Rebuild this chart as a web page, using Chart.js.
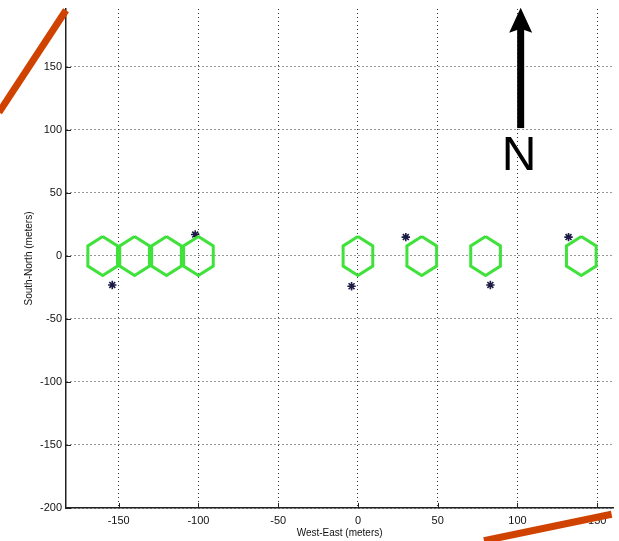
<!DOCTYPE html>
<html>
<head>
<meta charset="utf-8">
<script src="https://cdn.jsdelivr.net/npm/chart.js@4.4.0/dist/chart.umd.min.js"></script>
<style>
  html, body { margin: 0; padding: 0; background: #fff; overflow: hidden; }
  #wrap { position: relative; width: 619px; height: 541px; overflow: hidden; }
  #siteCanvas { display: block; }
</style>
</head>
<body>
<div id="wrap"><canvas id="siteCanvas"></canvas></div>
<script>
// hexagon centres (meters)
var hexX = [-160, -140, -120, -100, 0, 40, 80, 140];
var hexY = [0, 0, 0, 0, 0, 0, 0, 0];

// asterisk markers (meters)
var starX = [-154, -102, -4, 30, 83, 132];
var starY = [-23, 17, -24, 15, -23, 15];

// red pen strokes drawn over the figure
var strokeAX = [-225, -183];
var strokeAY = [114, 195];
var strokeBX = [79, 159];
var strokeBY = [-226, -205];

// north arrow
var arrowX = 102;
var arrowY = [101.5, 197];
var northLabel = { x: 101, y: 80, text: 'N' };

var xTicks = [-150, -100, -50, 0, 50, 100, 150];
var yTicks = [-200, -150, -100, -50, 0, 50, 100, 150];

function pts(xs, ys) {
    return xs.map(function (x, i) { return { x: x, y: ys[i] }; });
}

function hexagon(cx, cy) {
    var w = 9.3, h = 15.5, s = 8;
    return [
        { x: cx, y: cy + h }, { x: cx + w, y: cy + s }, { x: cx + w, y: cy - s },
        { x: cx, y: cy - h }, { x: cx - w, y: cy - s }, { x: cx - w, y: cy + s },
        { x: cx, y: cy + h }
    ];
}

var datasets = [];
hexX.forEach(function (x, i) {
    datasets.push({
        data: hexagon(x, hexY[i]), showLine: true, pointRadius: 0,
        borderColor: '#3fe23a', borderWidth: 3, borderJoinStyle: 'miter'
    });
    datasets.push({
        data: hexagon(x, hexY[i]), showLine: true, pointRadius: 0,
        borderColor: '#063006', borderWidth: 1.1
    });
});
datasets.push({
    data: pts(starX, starY), showLine: false, pointStyle: 'star',
    pointRadius: 4.2, borderColor: '#1b1b45', borderWidth: 1.6, backgroundColor: '#1b1b45'
});
datasets.push({
    data: pts(strokeAX, strokeAY), showLine: true, pointRadius: 0, clip: false,
    borderColor: '#d04200', borderWidth: 7
});
datasets.push({
    data: pts(strokeBX, strokeBY), showLine: true, pointRadius: 0, clip: false,
    borderColor: '#d04200', borderWidth: 7
});

// small inward tick marks, like the original plot
var innerTicks = {
    id: 'innerTicks',
    beforeDatasetsDraw: function (chart) {
        var ctx = chart.ctx, a = chart.chartArea;
        var xs = chart.scales.x, ys = chart.scales.y;
        ctx.save();
        ctx.strokeStyle = '#222';
        ctx.lineWidth = 1;
        ctx.beginPath();
        xTicks.forEach(function (v) {
            var p = Math.round(xs.getPixelForValue(v)) + 0.5;
            ctx.moveTo(p, a.bottom);
            ctx.lineTo(p, a.bottom - 5);
        });
        yTicks.forEach(function (v) {
            var p = Math.round(ys.getPixelForValue(v)) + 0.5;
            ctx.moveTo(a.left, p);
            ctx.lineTo(a.left + 5, p);
        });
        ctx.stroke();
        ctx.restore();
    }
};

var northArrow = {
    id: 'northArrow',
    afterDatasetsDraw: function (chart) {
        var ctx = chart.ctx;
        var xs = chart.scales.x, ys = chart.scales.y;
        var px = xs.getPixelForValue(arrowX);
        var y0 = ys.getPixelForValue(arrowY[0]);
        var y1 = ys.getPixelForValue(arrowY[1]);
        ctx.save();
        ctx.fillStyle = '#000';
        ctx.fillRect(px - 3.5, y1 + 20, 7, y0 - y1 - 20);
        ctx.beginPath();
        ctx.moveTo(px, y1);
        ctx.lineTo(px + 11.5, y1 + 25);
        ctx.lineTo(px, y1 + 21);
        ctx.lineTo(px - 11.5, y1 + 25);
        ctx.closePath();
        ctx.fill();
        ctx.font = '48px "Liberation Sans", Arial, sans-serif';
        ctx.textAlign = 'center';
        ctx.textBaseline = 'middle';
        ctx.fillText(northLabel.text, xs.getPixelForValue(northLabel.x), ys.getPixelForValue(northLabel.y) + 2);
        ctx.restore();
    }
};

var tickFont = { family: '"Liberation Sans", Arial, sans-serif', size: 11 };
var titleFont = { family: '"Liberation Sans", Arial, sans-serif', size: 10 };

new Chart(document.getElementById('siteCanvas'), {
    type: 'scatter',
    data: { datasets: datasets },
    options: {
        responsive: true,
        maintainAspectRatio: false,
        animation: false,
        layout: { padding: { top: 9, right: 0, left: 0, bottom: 0 } },
        plugins: { legend: { display: false }, tooltip: { enabled: false } },
        scales: {
            x: {
                type: 'linear', min: -183, max: 160,
                afterBuildTicks: function (s) { s.ticks = xTicks.map(function (v) { return { value: v }; }); },
                afterFit: function (s) { s.height = 33; s.paddingLeft = 0; s.paddingRight = 0; },
                grid: { color: '#333', lineWidth: 1, drawTicks: false },
                border: { display: true, color: '#222', width: 1.5, dash: [1, 3] },
                ticks: { color: '#111', font: tickFont, padding: 6, maxRotation: 0 },
                title: { display: true, text: 'West-East (meters)', color: '#111', font: titleFont, padding: { top: 0, bottom: 2 } }
            },
            y: {
                type: 'linear', min: -200, max: 196,
                afterBuildTicks: function (s) { s.ticks = yTicks.map(function (v) { return { value: v }; }); },
                afterFit: function (s) { s.width = 66; s.paddingTop = 0; s.paddingBottom = 0; },
                grid: { color: '#333', lineWidth: 1, drawTicks: false },
                border: { display: true, color: '#222', width: 1.5, dash: [1, 3] },
                ticks: { color: '#111', font: tickFont, padding: 4 },
                title: { display: true, text: 'South-North (meters)', color: '#111', font: titleFont, padding: { top: 23, bottom: 0 } }
            }
        }
    },
    plugins: [innerTicks, northArrow]
});
</script>
</body>
</html>
